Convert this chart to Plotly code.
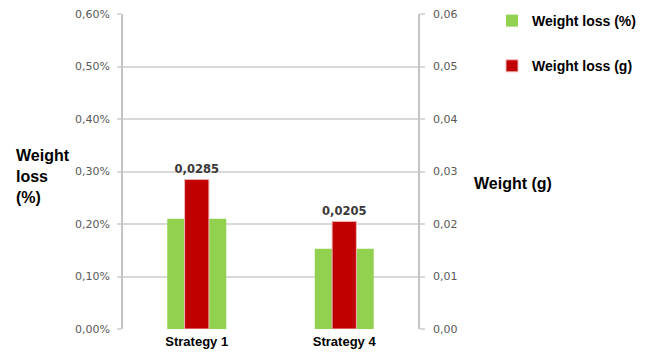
import plotly.graph_objects as go

# Data
strategies = ["Strategy 1", "Strategy 4"]
loss_pct = [0.0021, 0.00153]      # weight loss as fraction (shown as %)
loss_g = [0.0285, 0.0205]         # weight loss in grams

pct_ticks = [0, 0.001, 0.002, 0.003, 0.004, 0.005, 0.006]
g_ticks = [0, 0.01, 0.02, 0.03, 0.04, 0.05, 0.06]

GREEN = "#92D050"
RED = "#C00000"
GRID = "#d9d9d9"
AXIS = "#c4c4c4"
TICKFONT = dict(family="DejaVu Sans", size=11, color="#595959")
BOLD = dict(family="Liberation Sans", weight="bold", color="#000000")

# plot area in pixels
L, R, T, B = 123, 418, 14, 329
PW, PH = R - L, B - T

fig = go.Figure()

fig.add_trace(go.Bar(
    x=strategies, y=loss_pct, name="Weight loss (%)",
    marker=dict(color=GREEN, line=dict(width=0)),
    width=0.4, offset=-0.2, yaxis="y", legendgroup="a",
))
fig.add_trace(go.Bar(
    x=strategies, y=loss_g, name="Weight loss (g)",
    marker=dict(color=RED, line=dict(color="#f2b8b8", width=1)),
    width=0.165, offset=-0.0825, yaxis="y2", legendgroup="b",
    texttemplate="%{y:.4f}", textposition="outside", cliponaxis=False,
    constraintext="none",
    textfont=dict(family="DejaVu Sans", weight="bold", size=11.5, color="#3a3a3a"),
))

fig.update_layout(
    width=645, height=352,
    margin=dict(l=L, r=645 - R, t=T, b=352 - B, autoexpand=False),
    paper_bgcolor="white", plot_bgcolor="white",
    separators=",.",
    barmode="overlay",
    showlegend=True,
    legend=dict(
        x=(492 - L) / PW, y=1.0 + 9 / PH, xanchor="left", yanchor="top",
        font=dict(family="Liberation Sans", weight="bold", size=14, color="#000000"),
        tracegroupgap=24, bgcolor="rgba(0,0,0,0)",
    ),
    xaxis=dict(
        range=[-0.5, 1.5], showgrid=False, showline=False, zeroline=False,
        ticks="", tickfont=dict(size=13, **BOLD), ticklabelstandoff=3,
    ),
    yaxis=dict(
        range=[0, 0.006], tickvals=pct_ticks, tickformat=".2%",
        showgrid=True, gridcolor=GRID, gridwidth=1.5,
        zeroline=False, showline=True, linecolor=AXIS, linewidth=1.5,
        ticks="outside", ticklen=4, tickcolor=GRID, tickwidth=1.5,
        tickfont=TICKFONT, ticklabelstandoff=5,
    ),
    yaxis2=dict(
        range=[0, 0.06], tickvals=g_ticks, tickformat=".2f",
        overlaying="y", side="right",
        showgrid=False, zeroline=False, showline=True, linecolor=AXIS, linewidth=1.5,
        ticks="outside", ticklen=5, tickcolor=GRID, tickwidth=1.5,
        tickfont=TICKFONT, ticklabelstandoff=6,
    ),
)

fig.add_annotation(
    text="Weight<br>loss<br>(%)", xref="paper", yref="paper",
    x=(14 - L) / PW, y=(B - 177) / PH, xanchor="left", yanchor="middle",
    align="left", showarrow=False, font=dict(size=16, **BOLD),
)
fig.add_annotation(
    text="Weight (g)", xref="paper", yref="paper",
    x=(472 - L) / PW, y=(B - 183) / PH, xanchor="left", yanchor="middle",
    align="left", showarrow=False, font=dict(size=16, **BOLD),
)

fig.write_html("out.html")
